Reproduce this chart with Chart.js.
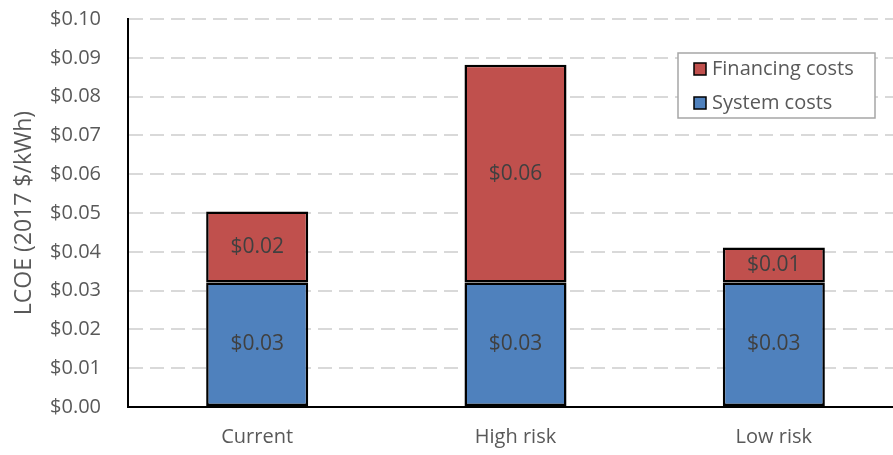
<!DOCTYPE html>
<html>
<head>
<meta charset="utf-8">
<script src="https://cdn.jsdelivr.net/npm/chart.js@4"></script>
<style>
  html, body { margin: 0; padding: 0; background: #fff; overflow: hidden; }
  #wrap { width: 903px; height: 455px; overflow: hidden; }
  #lcoeChart { display: block; margin-top: -20px; }
</style>
</head>
<body>
<div id="wrap"><canvas id="lcoeChart" width="903" height="475"></canvas></div>
<script>
const categories = ['Current', 'High risk', 'Low risk'];
const systemCosts = [0.0321, 0.0321, 0.0321];
const financingCosts = [0.0183, 0.0561, 0.0090];
const yTicks = [0, 0.01, 0.02, 0.03, 0.04, 0.05, 0.06, 0.07, 0.08, 0.09, 0.10];

const FONT = "'Open Sans', sans-serif";
const TEXT = '#595959';

// value labels in the middle of each segment
const barLabels = {
  id: 'barLabels',
  afterDatasetsDraw(chart) {
    const ctx = chart.ctx;
    ctx.save();
    ctx.font = '21px ' + FONT;
    ctx.fillStyle = '#404040';
    ctx.textAlign = 'center';
    ctx.textBaseline = 'middle';
    chart.data.datasets.forEach((ds, i) => {
      chart.getDatasetMeta(i).data.forEach((bar, j) => {
        const mid = (bar.y + bar.base) / 2;
        ctx.fillText('$' + ds.data[j].toFixed(2), bar.x, mid);
      });
    });
    ctx.restore();
  }
};

// boxed legend inside the plot, top right (canvas is shifted up 20px)
const boxLegend = {
  id: 'boxLegend',
  afterDraw(chart) {
    const ctx = chart.ctx;
    const x = 678, y = 73, w = 197, h = 65;
    ctx.save();
    ctx.fillStyle = '#fff';
    ctx.fillRect(x, y, w, h);
    ctx.strokeStyle = '#a6a6a6';
    ctx.lineWidth = 1.5;
    ctx.strokeRect(x, y, w, h);
    ctx.font = '20px ' + FONT;
    ctx.textBaseline = 'middle';
    const items = [chart.data.datasets[1], chart.data.datasets[0]];
    items.forEach((ds, i) => {
      const cy = y + 16 + i * 34;
      ctx.fillStyle = ds.backgroundColor;
      ctx.fillRect(x + 16, cy - 6, 12, 12);
      ctx.strokeStyle = '#000';
      ctx.lineWidth = 1.5;
      ctx.strokeRect(x + 16, cy - 6, 12, 12);
      ctx.fillStyle = TEXT;
      ctx.fillText(ds.label, x + 34, cy);
    });
    ctx.restore();
  }
};

const ctx = document.getElementById('lcoeChart').getContext('2d');
new Chart(ctx, {
  type: 'bar',
  data: {
    labels: categories,
    datasets: [
      {
        label: 'System costs',
        data: systemCosts,
        backgroundColor: '#4F81BD',
        borderColor: '#000',
        borderWidth: 2.5,
        borderSkipped: false
      },
      {
        label: 'Financing costs',
        data: financingCosts,
        backgroundColor: '#C0504D',
        borderColor: '#000',
        borderWidth: 2.5,
        borderSkipped: false
      }
    ]
  },
  options: {
    responsive: false,
    animation: false,
    layout: { padding: 0 },
    datasets: { bar: { categoryPercentage: 1, barPercentage: 0.395 } },
    plugins: {
      legend: { display: false },
      tooltip: { enabled: false }
    },
    scales: {
      x: {
        stacked: true,
        grid: { display: false },
        border: { color: '#000', width: 2 },
        ticks: { color: TEXT, font: { family: FONT, size: 20 }, padding: 10 },
        afterFit(scale) { scale.height = 48; }
      },
      y: {
        stacked: true,
        min: 0,
        max: 0.10,
        afterBuildTicks(scale) { scale.ticks = yTicks.map(v => ({ value: v })); },
        grid: {
          color: '#d9d9d9',
          lineWidth: 2,
          drawTicks: false
        },
        border: { color: '#000', width: 2, dash: [14, 7] },
        ticks: {
          color: TEXT,
          font: { family: FONT, size: 20 },
          padding: 27,
          callback: v => '$' + Number(v).toFixed(2)
        },
        title: {
          display: true,
          text: 'LCOE (2017 $/kWh)',
          color: TEXT,
          font: { family: FONT, size: 23 },
          padding: { top: 11, bottom: 4 }
        },
        afterFit(scale) { scale.width = 128; }
      }
    }
  },
  plugins: [barLabels, boxLegend]
});
</script>
</body>
</html>
